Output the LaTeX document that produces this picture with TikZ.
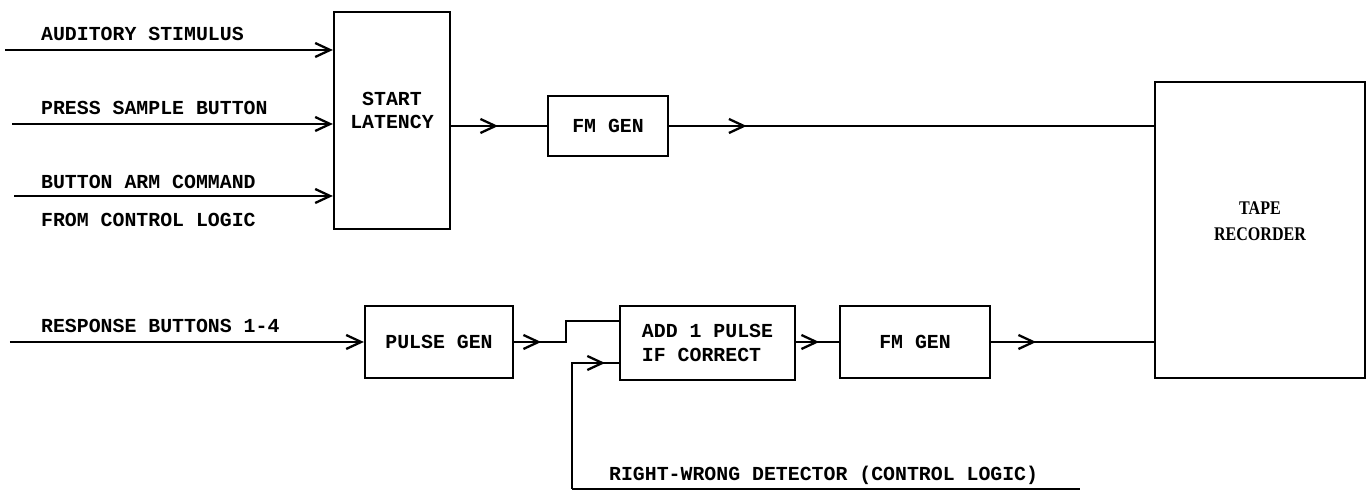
\documentclass[tikz,border=0pt]{standalone}
\usepackage{fontspec}
\setmonofont{Liberation Mono}
\newfontfamily\tapefont[FakeStretch=0.83]{Liberation Serif}
\usetikzlibrary{positioning}
\usetikzlibrary{arrows.meta,decorations.markings}

\tikzset{
    block/.style={draw, line width=1.3pt, inner sep=0pt, align=center},
    sig/.style={anchor=west, inner sep=0pt},
    inarrow/.style={-{Straight Barb[length=3mm,width=2.8mm]}},
    flow/.style={postaction={decorate},
        decoration={markings, mark=at position #1 with {\arrow{Straight Barb[length=3mm,width=2.8mm]}}}}
}

\begin{document}
\begin{tikzpicture}[line width=1.3pt, every node/.style={font=\ttfamily\bfseries\fontsize{11.3}{13.6}\selectfont}]
    \useasboundingbox (0,0) rectangle (27.4,9.82);

    % Blocks
    \node[block, minimum width=2.32cm, minimum height=4.34cm,
          label={[align=center, yshift=0.2cm]center:START\\LATENCY}] (latency) at (7.84,7.41) {};
    \node[block, minimum width=2.4cm, minimum height=1.2cm] (fmgenA) at (12.16,7.3) {FM GEN};
    \node[block, minimum width=4.2cm, minimum height=5.92cm,
          label={[align=center, yshift=0.18cm, font=\tapefont\bfseries\fontsize{11}{15}\selectfont]center:TAPE\\RECORDER}] (tape) at (25.2,5.22) {};
    \node[block, minimum width=2.96cm, minimum height=1.44cm] (pulsegen) at (8.78,2.98) {PULSE GEN};
    \node[block, minimum width=3.5cm, minimum height=1.48cm, align=left] (addpulse) at (14.15,2.96) {ADD 1 PULSE\\IF CORRECT};
    \node[block, minimum width=3.0cm, minimum height=1.44cm] (fmgenB) at (18.3,2.98) {FM GEN};

    % Free ends
    \coordinate (audIn) at (0.1,8.82);
    \coordinate (pressIn) at (0.24,7.34);
    \coordinate (armIn) at (0.28,5.9);
    \coordinate (respIn) at (0.2,2.98);
    \coordinate (rwTurn) at (11.44,0.04);
    \coordinate (rwEnd) at (21.6,0.04);

    % Input signals
    \draw[inarrow] (audIn) -- (audIn -| latency.west);
    \draw[inarrow] (pressIn) -- (pressIn -| latency.west);
    \draw[inarrow] (armIn) -- (armIn -| latency.west);
    \draw[inarrow] (respIn) -- (pulsegen.west);

    \node[sig] (audLabel) at (0.8,9.14) {AUDITORY STIMULUS};
    \node[sig] (pressLabel) at (0.8,7.66) {PRESS SAMPLE BUTTON};
    \node[sig] (armLabel) at (0.8,6.18) {BUTTON ARM COMMAND};
    \node[sig] (armLabelB) at (0.8,5.42) {FROM CONTROL LOGIC};
    \node[sig] (respLabel) at (0.8,3.3) {RESPONSE BUTTONS 1-4};

    % Latency channel
    \draw[flow=0.94cm] (latency.east |- fmgenA.west) -- (fmgenA.west);
    \draw[flow=1.55cm] (fmgenA.east) -- (fmgenA.east -| tape.west);

    % Response channel
    \draw[flow=0.54cm] (pulsegen.east) -- ++(1.04,0) |- ([yshift=0.44cm]addpulse.west);
    \draw[flow=0.46cm] (addpulse.east |- fmgenB.west) -- (fmgenB.west);
    \draw[flow=0.9cm] (fmgenB.east) -- (fmgenB.east -| tape.west);

    % Right-wrong detector
    \draw (rwTurn) -- (rwEnd);
    \draw[flow=3.18cm] (rwTurn) |- ([yshift=-0.4cm]addpulse.west);
    \node[sig] (rwLabel) at (12.16,0.32) {RIGHT-WRONG DETECTOR (CONTROL LOGIC)};
\end{tikzpicture}
\end{document}
